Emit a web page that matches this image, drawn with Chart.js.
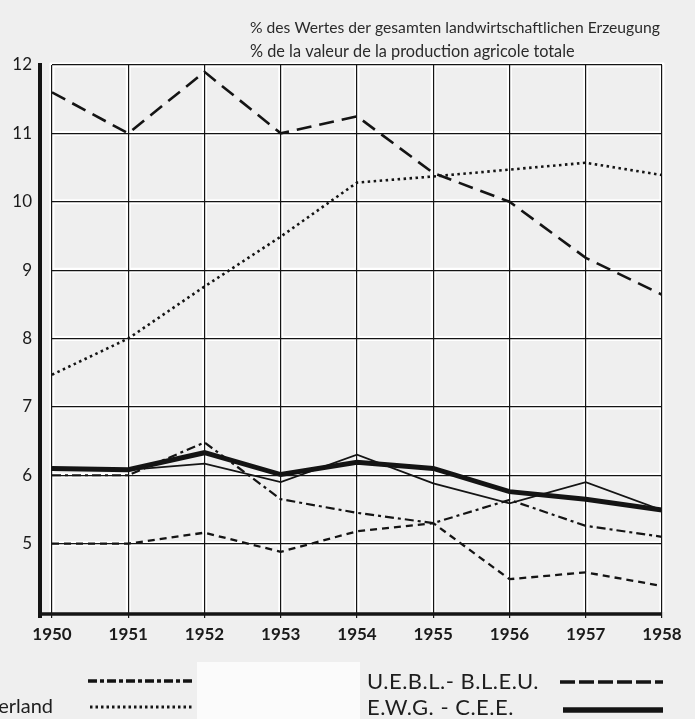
<!DOCTYPE html>
<html>
<head>
<meta charset="utf-8">
<script src="https://cdn.jsdelivr.net/npm/chart.js@4/dist/chart.umd.min.js"></script>
<style>
  html, body { margin: 0; padding: 0; background: #efefef; }
  #wrap { position: relative; width: 695px; height: 719px; }
</style>
</head>
<body>
<div id="wrap"><canvas id="agriChart" width="695" height="719"></canvas></div>
<script>
// years on the x axis
const years = [1950, 1951, 1952, 1953, 1954, 1955, 1956, 1957, 1958];
const yTicks = [5, 6, 7, 8, 9, 10, 11, 12];

// % of total agricultural production value
const ueblValues = [11.6, 11.0, 11.9, 11.0, 11.25, 10.42, 10.0, 9.18, 8.64];
const nederlandValues = [7.47, 8.0, 8.76, 9.49, 10.28, 10.37, 10.47, 10.57, 10.39];
const dashDotValues = [6.0, 6.0, 6.48, 5.65, 5.45, 5.3, 5.64, 5.26, 5.1];
const shortDashValues = [5.0, 5.0, 5.16, 4.88, 5.18, 5.3, 4.48, 4.58, 4.38];
const thinSolidValues = [6.08, 6.08, 6.17, 5.9, 6.3, 5.88, 5.59, 5.9, 5.49];
const ewgValues = [6.1, 6.08, 6.33, 6.01, 6.19, 6.1, 5.76, 5.65, 5.49];

const headerDe = '% des Wertes der gesamten landwirtschaftlichen Erzeugung';
const headerFr = '% de la valeur de la production agricole totale';

const FONT = 'Lato, "Open Sans", sans-serif';
const INK = '#141414';

const toPoints = vals => years.map((y, i) => ({ x: y, y: vals[i] }));

function series(label, vals, width, dash) {
  return {
    label: label,
    data: toPoints(vals),
    borderColor: INK,
    borderWidth: width,
    borderDash: dash,
    borderCapStyle: 'butt',
    pointRadius: 0,
    tension: 0,
    fill: false
  };
}

// white halo under the grid, like the printed original
const gridHalo = {
  id: 'gridHalo',
  beforeDraw(chart) {
    const { ctx, chartArea: a, scales } = chart;
    ctx.save();
    ctx.strokeStyle = '#ffffff';
    ctx.lineWidth = 5;
    years.forEach(y => {
      const px = scales.x.getPixelForValue(y);
      ctx.beginPath(); ctx.moveTo(px, a.top - 2); ctx.lineTo(px, a.bottom); ctx.stroke();
    });
    yTicks.forEach(v => {
      const py = scales.y.getPixelForValue(v);
      ctx.beginPath(); ctx.moveTo(a.left - 2, py); ctx.lineTo(a.right + 2, py); ctx.stroke();
    });
    ctx.restore();
  }
};

function fitFont(ctx, text, width, weight) {
  let size = 20;
  ctx.font = weight + ' ' + size + 'px ' + FONT;
  size = size * width / ctx.measureText(text).width;
  ctx.font = weight + ' ' + size.toFixed(2) + 'px ' + FONT;
}

function sample(ctx, x1, x2, y, width, dash) {
  ctx.save();
  ctx.strokeStyle = INK;
  ctx.lineWidth = width;
  ctx.setLineDash(dash);
  ctx.beginPath(); ctx.moveTo(x1, y); ctx.lineTo(x2, y); ctx.stroke();
  ctx.restore();
}

const frame = {
  id: 'frame',
  afterDraw(chart) {
    const { ctx, chartArea: a } = chart;
    ctx.save();
    // thick axes, the vertical one set off to the left of 1950
    ctx.strokeStyle = INK;
    ctx.lineWidth = 4;
    ctx.beginPath(); ctx.moveTo(a.left - 12, a.top - 2); ctx.lineTo(a.left - 12, a.bottom + 6); ctx.stroke();
    ctx.lineWidth = 3.5;
    ctx.beginPath(); ctx.moveTo(a.left - 14, a.bottom + 2); ctx.lineTo(a.right, a.bottom + 2); ctx.stroke();

    // headers
    ctx.fillStyle = '#2a2a2a';
    ctx.textBaseline = 'alphabetic';
    ctx.textAlign = 'left';
    fitFont(ctx, headerDe, 410, 'normal');
    ctx.fillText(headerDe, 250, 33);
    fitFont(ctx, headerFr, 325, 'normal');
    ctx.fillText(headerFr, 250, 57);

    // legend
    sample(ctx, 88, 193, 681, 3.5, [9, 3, 4, 3]);
    sample(ctx, 90, 192, 707, 3, [2.5, 3]);
    sample(ctx, 560, 663, 682, 3.5, [15, 4]);
    sample(ctx, 563, 663, 710, 5.5, []);

    ctx.fillStyle = '#fbfbfb';
    ctx.fillRect(197, 662, 163, 57);

    ctx.fillStyle = '#1e1e1e';
    ctx.font = 'normal 20px ' + FONT;
    ctx.textAlign = 'right';
    ctx.fillText('Nederland', 53, 713);
    ctx.textAlign = 'left';
    ctx.font = 'normal 22px ' + FONT;
    ctx.letterSpacing = '0.5px';
    ctx.fillText('U.E.B.L.- B.L.E.U.', 367, 689);
    ctx.fillText('E.W.G. - C.E.E.', 367, 715);
    ctx.restore();
  }
};

const ctx = document.getElementById('agriChart').getContext('2d');
const agriChart = new Chart(ctx, {
  type: 'line',
  data: {
    datasets: [
      series('U.E.B.L. - B.L.E.U.', ueblValues, 2.6, [15, 8]),
      series('Nederland', nederlandValues, 2.6, [2.5, 3.5]),
      series('Strich-Punkt', dashDotValues, 2.2, [9, 4, 3, 4]),
      series('gestrichelt', shortDashValues, 2.3, [7, 5]),
      series('dünn', thinSolidValues, 1.8, []),
      series('E.W.G. - C.E.E.', ewgValues, 5, [])
    ]
  },
  options: {
    responsive: false,
    animation: false,
    events: [],
    layout: { padding: { top: 65, right: 33, bottom: 77, left: 0 } },
    plugins: {
      legend: { display: false },
      tooltip: { enabled: false }
    },
    scales: {
      x: {
        type: 'linear',
        min: 1950,
        max: 1958,
        afterBuildTicks: scale => { scale.ticks = years.map(v => ({ value: v })); },
        afterFit: scale => { scale.height = 30; },
        border: { display: false },
        grid: { color: INK, lineWidth: 1.2, drawTicks: true, tickLength: 6, tickColor: INK },
        ticks: {
          color: '#1a1a1a',
          padding: 6,
          maxRotation: 0,
          font: { family: FONT, size: 17, weight: 'bold' },
          callback: v => String(v)
        }
      },
      y: {
        min: 4,
        max: 12,
        afterBuildTicks: scale => { scale.ticks = yTicks.map(v => ({ value: v })); },
        afterFit: scale => { scale.width = 52; },
        border: { display: false },
        grid: { color: INK, lineWidth: 1.2, drawTicks: false },
        ticks: {
          color: '#1a1a1a',
          padding: 20,
          font: { family: FONT, size: 17 }
        }
      }
    }
  },
  plugins: [gridHalo, frame]
});
</script>
</body>
</html>
